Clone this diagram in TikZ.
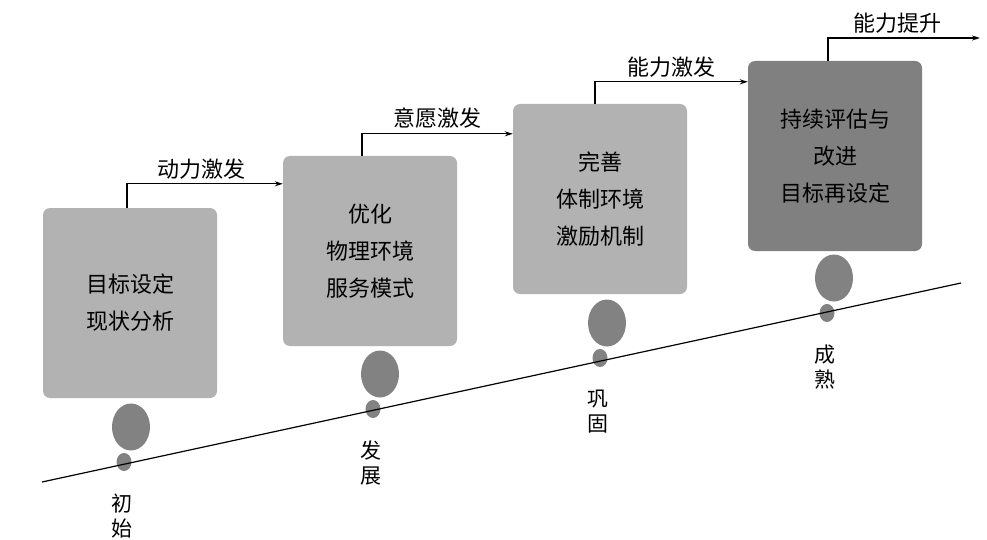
\documentclass[tikz,border=0pt]{standalone}
\usepackage{fontspec}
\setmainfont{Noto Sans CJK SC}
\usepackage{xcolor}
\usetikzlibrary{shapes.geometric}
\usetikzlibrary{arrows.meta}

\definecolor{lightg}{gray}{0.70}
\definecolor{darkg}{gray}{0.50}
\definecolor{midg}{gray}{0.51}

\begin{document}
\begin{tikzpicture}[x=1pt,y=-1pt,
  box/.style={fill=lightg, rounded corners=7pt, minimum width=174pt, minimum height=190pt, inner sep=0pt, align=center, font=\fontsize{22}{37}\selectfont},
  blob/.style={ellipse, fill=midg, inner sep=0pt, minimum width=38pt, minimum height=47pt},
  dot/.style={ellipse, fill=midg, inner sep=0pt, minimum width=15pt, minimum height=18pt},
  lab/.style={align=center, font=\fontsize{21}{25}\selectfont},
  flow/.style={font=\fontsize{22}{26}\selectfont},
  arr/.style={line width=1.2pt, -{Stealth[length=8pt,width=5pt]}}]
\useasboundingbox (0,0) rectangle (987,540);

\node[box] (b1) at (130,303) {目标设定\\现状分析};
\node[box] (b2) at (370,251) {优化\\物理环境\\服务模式};
\node[box] (b3) at (600,199) {完善\\体制环境\\激励机制};
\node[box,fill=darkg] (b4) at (835,156) {持续评估与\\改进\\目标再设定};

    \foreach \i/\x/\y/\t in {1/131/427/{初\\始}, 2/380/374/{发\\展}, 3/607/323/{巩\\固}, 4/834/278/{成\\熟}}
    {
        \node[blob] (e\i) at (\x,\y) {};
        \node[dot] (d\i) at (\x-7,\y+35) {};
        \node[lab] (t\i) at (\x-9,\y+89) {\t};
    }

\coordinate (s0) at (42,482);
\coordinate (s1) at (961,283);
\draw[line width=1.2pt] (s0) -- (s1);

\draw[arr] ([xshift=-3pt]b1.north) |- ([yshift=-28pt]b2.north west) node[flow,pos=.74,above=1pt] {动力激发};
\draw[arr] ([xshift=-8pt]b2.north) |- ([yshift=-30pt]b3.north west) node[flow,pos=.75,above=1pt] {意愿激发};
\draw[arr] ([xshift=-5pt]b3.north) |- ([yshift=-21pt]b4.north west) node[flow,pos=.75,above=1pt] {能力激发};
\coordinate (out) at (980,38);
\draw[arr] ([xshift=-7pt]b4.north) |- (out) node[flow,pos=.73,above=1pt] {能力提升};

\end{tikzpicture}
\end{document}
